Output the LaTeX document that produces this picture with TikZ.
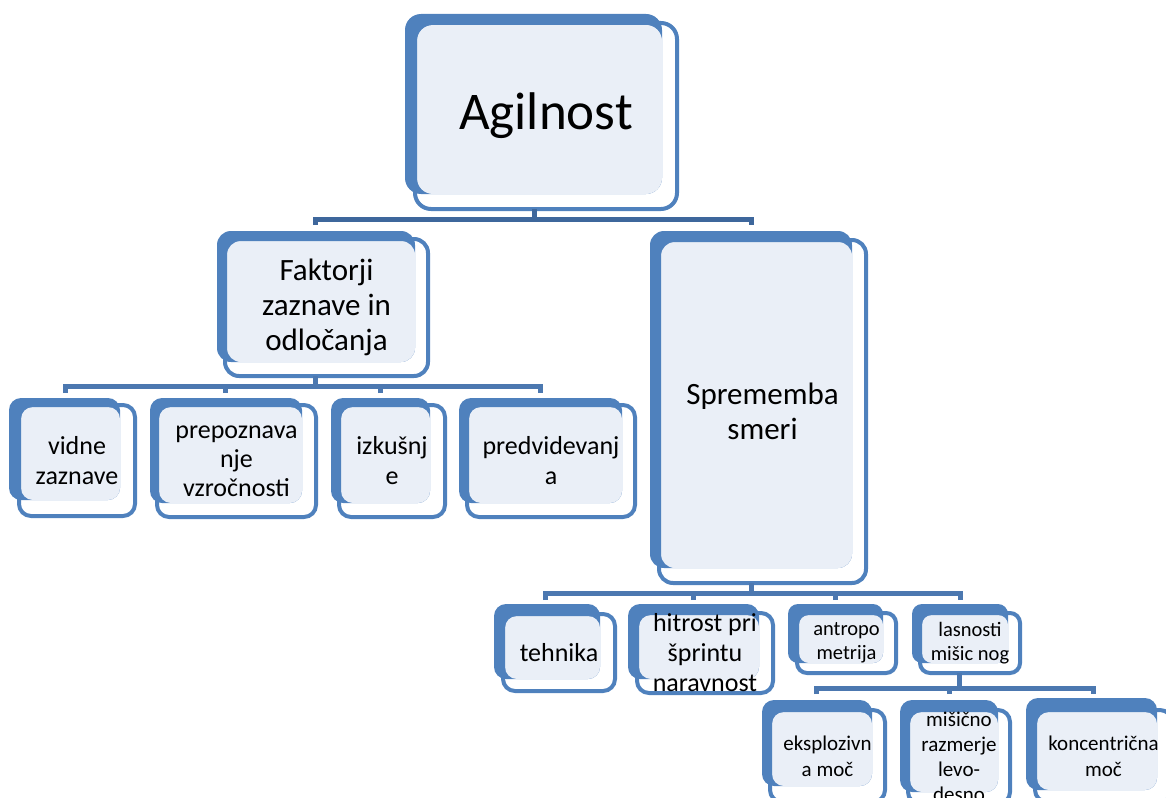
\documentclass[tikz,border=0pt]{standalone}
\usepackage{fontspec}
\setmainfont{Carlito}
\usetikzlibrary{calc}

\definecolor{boxblue}{RGB}{79,129,189}
\definecolor{paneblue}{RGB}{234,239,247}
\definecolor{linkblue}{RGB}{76,120,176}
\definecolor{topline}{RGB}{62,103,156}

\tikzset{
  frontbox/.style={draw=boxblue, line width=4pt, inner sep=0pt, outer sep=0pt, align=center, text=black},
  link/.style={draw=linkblue, line width=5pt},
}

% #1 name, #2/#3 shadow corners, #4/#5 frame corners, #6/#7 font size and leading,
% #8 corner radius, #9 label
\newcommand\tierbox[9]{%
  \fill[boxblue, rounded corners=#8] #2 rectangle #3;
  \fill[paneblue, rounded corners=#8] ($#4+(2,2)$) rectangle #3;
  \path let \p1=#4, \p2=#5 in ($#4!0.5!#5$)
    node[frontbox, rounded corners=#8, minimum width={\x2-\x1}, minimum height={\y1-\y2},
         font=\fontsize{#6}{#7}\selectfont] (#1) {#9};
}

\begin{document}
\begin{tikzpicture}[x=1pt,y=-1pt]
\useasboundingbox (0,0) rectangle (1166,797);

% level 1
\tierbox{agil}{(405,14)}{(662,194)}{(415,23)}{(677,209)}{53}{62}{16}{Agilnost}

% level 2
\tierbox{fak}{(217,231)}{(415,362)}{(225,239)}{(428,376)}{31}{35}{14}{Faktorji\\zaznave in\\odločanja}
\tierbox{spr}{(650,231)}{(852,568)}{(659,240)}{(866,583)}{31}{35}{14}{Sprememba\\smeri}

% level 3, perception and decision
\tierbox{vid}{(9,398)}{(120,500)}{(19,405)}{(135,516)}{26}{30}{12}{vidne\\zaznave}
\tierbox{pre}{(150,398)}{(302,503)}{(157,405)}{(316,517)}{26}{29}{12}{prepoznava\\nje\\vzročnosti}
\tierbox{izk}{(331,398)}{(430,503)}{(339,405)}{(445,517)}{26}{30}{12}{izkušnj\\e}
\tierbox{pred}{(459,398)}{(622,503)}{(467,405)}{(635,517)}{26}{30}{12}{predvidevanj\\a}

% level 3, change of direction
\tierbox{teh}{(494,604)}{(600,679)}{(503,614)}{(615,691)}{26}{30}{12}{tehnika}
\tierbox{hit}{(628,604)}{(759,679)}{(637,613)}{(773,693)}{26}{30}{12}{hitrost pri\\šprintu\\naravnost}
\tierbox{ant}{(788,604)}{(883,663)}{(797,613)}{(896,673)}{20.5}{24}{10}{antropo\\metrija}
\tierbox{las}{(912,604)}{(1008,663)}{(920,613)}{(1020,673)}{20.5}{24}{10}{lasnosti\\mišic nog}

% level 4
\tierbox{eks}{(762,700)}{(872,786)}{(770,710)}{(885,802)}{21}{26}{12}{eksplozivn\\a moč}
\tierbox{mis}{(900,700)}{(998,792)}{(908,710)}{(1010,804)}{21}{25}{12}{mišično\\razmerje\\levo-\\desno}
\tierbox{kon}{(1026,698)}{(1157,790)}{(1035,710)}{(1172,802)}{21}{26}{12}{koncentrična\\moč}

% connectors
\coordinate (hubA) at (534,219);
\coordinate (tA1) at (315,225);
\coordinate (tA2) at (751,225);
\draw[link, draw=topline] (agil.south -| hubA) -- (hubA);
\draw[link, draw=topline] (tA1) |- (hubA) -| (tA2);

\coordinate (hubB) at (315,386);
\coordinate (tB1) at (65,393);
\coordinate (tB2) at (225,393);
\coordinate (tB3) at (380,393);
\coordinate (tB4) at (540,393);
\draw[link] (fak.south -| hubB) -- (hubB);
\draw[link] (tB1) |- (hubB) -| (tB4);
\draw[link] (tB2) -- (tB2 |- hubB);
\draw[link] (tB3) -- (tB3 |- hubB);

\coordinate (hubC) at (751,593);
\coordinate (tC1) at (545,600);
\coordinate (tC2) at (693,600);
\coordinate (tC3) at (835,600);
\coordinate (tC4) at (960,600);
\draw[link] (spr.south -| hubC) -- (hubC);
\draw[link] (tC1) |- (hubC) -| (tC4);
\draw[link] (tC2) -- (tC2 |- hubC);
\draw[link] (tC3) -- (tC3 |- hubC);

\coordinate (hubD) at (959,688);
\coordinate (tD1) at (816,694);
\coordinate (tD2) at (949,694);
\coordinate (tD3) at (1093,694);
\draw[link] (las.south -| hubD) -- (hubD);
\draw[link] (tD1) |- (hubD) -| (tD3);
\draw[link] (tD2) -- (tD2 |- hubD);
\end{tikzpicture}
\end{document}
